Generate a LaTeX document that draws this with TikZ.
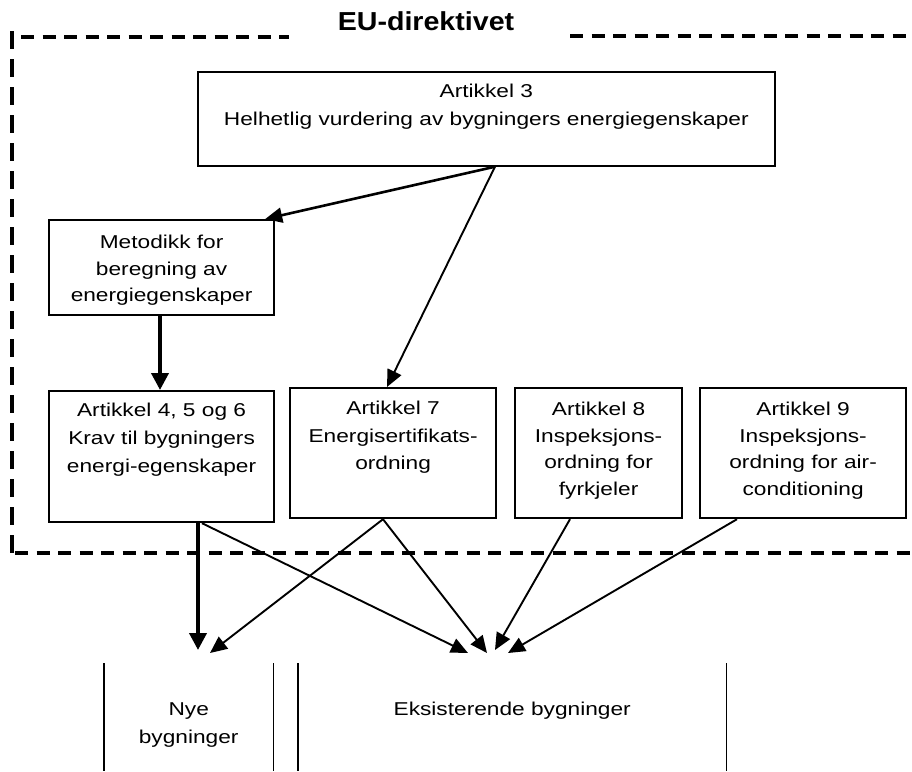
\documentclass[tikz,border=0pt]{standalone}
\usepackage{fontspec}
\setmainfont{Liberation Sans}[FakeStretch=1.22]
\newfontfamily\titlefont{Liberation Sans}[FakeStretch=1.1]
\usetikzlibrary{arrows.meta,calc}
\newcommand\bxt[5]{\parbox[c][#2pt][t]{#1pt}{\centering\fontsize{18.6}{#4}\selectfont\rule{0pt}{#3pt}#5}}
\begin{document}
\begin{tikzpicture}[x=1pt,y=-1pt,
  bx/.style={draw, line width=2.2pt, inner sep=0pt, anchor=north west},
  col/.style={inner sep=0pt, anchor=north west},
  frameh/.style={line width=4pt, dash pattern=on 13pt off 8.5pt},
  framev/.style={line width=4pt, dash pattern=on 18pt off 10pt},
  thinarr/.style={line width=1.9pt, -{Triangle[length=17pt,width=15pt]}},
  thickarr/.style={line width=3.8pt, -{Triangle[length=17pt,width=17pt]}},
  colline/.style={line width=1.8pt}]
\useasboundingbox[fill=white] (0,0) rectangle (912,771);

% dashed frame
\draw[frameh] (21,37) -- (289,37);
\draw[frameh] (570,36) -- (912,36);
\draw[framev] (12,31) -- (12,553);
\draw[frameh] (15,553) -- (912,553);
\node[anchor=base, inner sep=0pt] (title) at (426,30) {\titlefont\bfseries\fontsize{26}{30}\selectfont EU-direktivet};

% boxes
\node[bx, line width=1.7pt] (a3) at (197,71) {\bxt{577}{94}{25.5}{28}{Artikkel 3\\Helhetlig vurdering av bygningers energiegenskaper}};
\node[bx] (met) at (48,219) {\bxt{225}{95}{28.5}{26.5}{Metodikk for\\beregning av\\energiegenskaper}};
\node[bx] (a456) at (48,390) {\bxt{225}{131}{25.5}{28}{Artikkel 4, 5 og 6\\Krav til bygningers\\energi-egenskaper}};
\node[bx] (a7) at (289,387) {\bxt{206}{130}{26.5}{27.5}{Artikkel 7\\Energisertifikats-\\ordning}};
\node[bx] (a8) at (514,387) {\bxt{167}{130}{27.5}{26.5}{Artikkel 8\\Inspeksjons-\\ordning for\\fyrkjeler}};
\node[bx] (a9) at (699,387) {\bxt{206}{130}{27.5}{26.5}{Artikkel 9\\Inspeksjons-\\ordning for air-\\conditioning}};

% bottom columns
\node[col] (nye) at (104,663) {\bxt{169}{108}{52}{28}{Nye\\bygninger}};
\node[col] (eks) at (298,663) {\bxt{428}{108}{52}{28}{Eksisterende bygninger}};
\draw[colline] (nye.north west) -- (nye.south west);
\draw[colline] (nye.north east) -- (nye.south east);
\draw[colline] (eks.north west) -- (eks.south west);
\draw[colline] (eks.north east) -- (eks.south east);

% connectors
\draw[thinarr, line width=2.6pt] ($(a3.south west)+(298,0)$) -- ($(met.north east)+(-10,0)$);
\draw[thinarr] ($(a3.south west)+(298,0)$) -- ($(a7.north west)+(98,0)$);
\draw[thickarr] ($(met.south west)+(112,0)$) -- ($(a456.north west)+(112,0)$);
\draw[thickarr] ($(a456.south west)+(150,0)$) -- ($(nye.north west)+(94,-13)$);
\draw[thinarr] ($(a456.south west)+(154,0)$) -- ($(eks.north west)+(170,-10)$);
\draw[thinarr] ($(a7.south west)+(94,0)$) -- ($(nye.north west)+(106,-10)$);
\draw[thinarr] ($(a7.south west)+(94,0)$) -- ($(eks.north west)+(189,-10)$);
\draw[thinarr] ($(a8.south west)+(56,0)$) -- ($(eks.north west)+(197,-13)$);
\draw[thinarr] ($(a9.south west)+(38,0)$) -- ($(eks.north west)+(210,-10)$);
\end{tikzpicture}
\end{document}
